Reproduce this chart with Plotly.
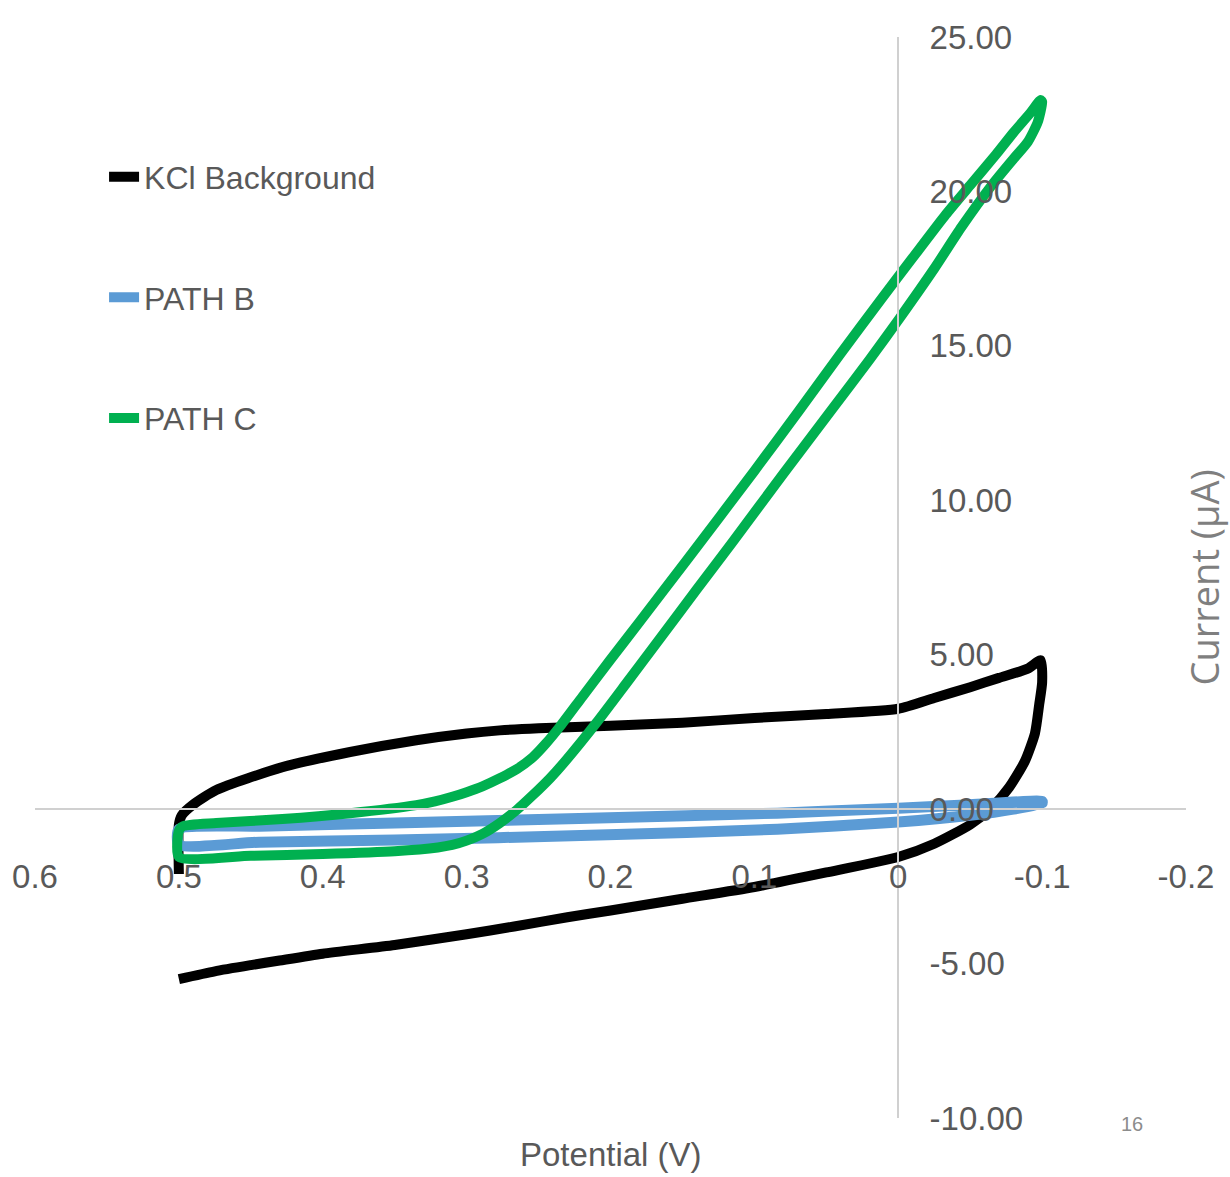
import plotly.graph_objects as go

# Cyclic voltammograms: potential (V) vs current (µA)

# KCl background: forward sweep along the bottom, return sweep along the top
kcl_potential = [
    0.500, 0.475, 0.450, 0.430, 0.400, 0.350, 0.300, 0.267, 0.230, 0.200,
    0.150, 0.100, 0.050, 0.000, -0.025, -0.050, -0.065, -0.077, -0.088,
    -0.095, -0.098, -0.100, -0.099,
    -0.090, -0.070, -0.050, -0.025, 0.000, 0.050, 0.100, 0.150, 0.200,
    0.250, 0.277, 0.300, 0.335, 0.381, 0.428, 0.474, 0.490, 0.498, 0.500, 0.500,
]
kcl_current = [
    -5.50, -5.25, -5.05, -4.90, -4.68, -4.40, -4.05, -3.80, -3.50, -3.28,
    -2.90, -2.52, -2.05, -1.55, -1.12, -0.50, 0.05, 0.70, 1.55,
    2.45, 3.40, 4.10, 4.82,
    4.55, 4.25, 3.95, 3.60, 3.25, 3.08, 2.95, 2.80, 2.70,
    2.62, 2.55, 2.45, 2.23, 1.85, 1.36, 0.62, 0.15, -0.20, -0.50, -2.10,
]

# PATH B
path_b_potential = [
    0.500, 0.444, 0.350, 0.208, 0.084, 0.000, -0.050, -0.080, -0.100,
    -0.100, -0.050, 0.000, 0.084, 0.208, 0.350, 0.444, 0.500, 0.500,
]
path_b_current = [
    -1.15, -1.07, -1.00, -0.84, -0.65, -0.42, -0.20, 0.00, 0.20,
    0.25, 0.14, 0.03, -0.13, -0.29, -0.45, -0.55, -0.65, -1.15,
]

# PATH C
path_c_potential = [
    0.500, 0.450, 0.400, 0.350, 0.320, 0.310, 0.300, 0.289, 0.277, 0.265,
    0.254, 0.242, 0.2306, 0.2097, 0.1889, 0.166, 0.140, 0.115, 0.080, 0.046,
    0.020, -0.001, -0.025, -0.044, -0.065, -0.080, -0.090, -0.097, -0.100,
    -0.099, -0.092, -0.080, -0.068, -0.050, -0.033, -0.010, 0.012, 0.040,
    0.069, 0.100, 0.147, 0.180, 0.2007, 0.2194, 0.2354, 0.245, 0.254, 0.265,
    0.277, 0.289, 0.300, 0.310, 0.322, 0.335, 0.381, 0.428, 0.474, 0.497,
    0.500, 0.500,
]
path_c_current = [
    -1.55, -1.51, -1.45, -1.36, -1.24, -1.16, -1.02, -0.80, -0.45, -0.02,
    0.45, 1.00, 1.60, 2.80, 4.08, 5.50, 7.12, 8.66, 10.85, 12.95,
    14.55, 15.90, 17.50, 18.85, 20.20, 21.05, 21.60, 22.25, 22.90,
    22.96, 22.55, 21.90, 21.20, 20.20, 19.25, 17.85, 16.50, 14.75,
    12.90, 10.95, 8.06, 6.05, 4.80, 3.65, 2.66, 2.12, 1.68, 1.30,
    1.00, 0.74, 0.55, 0.40, 0.25, 0.13, -0.13, -0.32, -0.45, -0.55,
    -0.70, -1.55,
]

series_names = ["KCl Background", "PATH B", "PATH C"]
series_colors = ["#000000", "#5b9bd5", "#00b050"]
series_widths = [10, 11, 10]

x_tick_values = [0.6, 0.5, 0.4, 0.3, 0.2, 0.1, 0.0, -0.1, -0.2]
x_tick_labels = ["0.6", "0.5", "0.4", "0.3", "0.2", "0.1", "0", "-0.1", "-0.2"]
y_tick_values = [-10, -5, 0, 5, 10, 15, 20, 25]
y_tick_labels = ["-10.00", "-5.00", "0.00", "5.00", "10.00", "15.00", "20.00", "25.00"]

X_RANGE = [0.6, -0.2]
Y_RANGE = [-10, 25]

label_font = "Liberation Sans, Arial, sans-serif"
label_color = "#595959"
axis_line_color = "#d0d0d0"

fig = go.Figure()
all_data = [
    (kcl_potential, kcl_current),
    (path_b_potential, path_b_current),
    (path_c_potential, path_c_current),
]
for (xs, ys), name, color, w in zip(all_data, series_names, series_colors, series_widths):
    fig.add_trace(go.Scatter(
        x=xs, y=ys, mode="lines", name=name,
        line=dict(color=color, width=w, shape="spline", smoothing=0.6),
        legendgroup=name,
    ))

# axes cross at the origin: y axis sits at x = 0, x axis sits at y = 0
y_axis_pos = (X_RANGE[0] - 0.0) / (X_RANGE[0] - X_RANGE[1])
x_axis_pos = (0.0 - Y_RANGE[0]) / (Y_RANGE[1] - Y_RANGE[0])

fig.update_layout(
    width=1230, height=1177,
    margin=dict(l=35, r=44, t=37, b=59),
    paper_bgcolor="white", plot_bgcolor="white",
    showlegend=True,
    legend=dict(
        x=0.060, y=0.896, xanchor="left", yanchor="top",
        font=dict(family=label_font, size=32, color=label_color),
        tracegroupgap=76, bgcolor="rgba(0,0,0,0)",
        itemwidth=30,
    ),
    xaxis=dict(
        range=X_RANGE, showgrid=False, zeroline=False,
        showline=True, linecolor=axis_line_color, linewidth=1.5,
        anchor="free", position=x_axis_pos, side="bottom",
        tickmode="array", tickvals=x_tick_values, ticktext=x_tick_labels,
        ticks="", ticklabelstandoff=39,
        tickfont=dict(family=label_font, size=33, color=label_color),
    ),
    yaxis=dict(
        range=Y_RANGE, showgrid=False, zeroline=False,
        showline=True, linecolor=axis_line_color, linewidth=1.5,
        anchor="free", position=y_axis_pos, side="right",
        tickmode="array", tickvals=y_tick_values, ticktext=y_tick_labels,
        ticks="", ticklabelstandoff=24,
        tickfont=dict(family=label_font, size=33, color=label_color),
    ),
    annotations=[
        dict(text="Potential (V)", xref="paper", yref="paper",
             x=0.5, y=-0.034, xanchor="center", yanchor="middle",
             showarrow=False,
             font=dict(family=label_font, size=33, color=label_color)),
        dict(text="Current (µA)", xref="paper", yref="paper",
             x=1.0148, y=0.5, xanchor="center", yanchor="middle",
             textangle=-90, showarrow=False,
             font=dict(family="Open Sans, sans-serif", size=38, color="#7f7f7f")),
        dict(text="16", xref="paper", yref="paper",
             x=0.953, y=-0.006, xanchor="center", yanchor="middle",
             showarrow=False,
             font=dict(family=label_font, size=20, color="#8c8c8c")),
    ],
)

fig.write_html("out.html")
